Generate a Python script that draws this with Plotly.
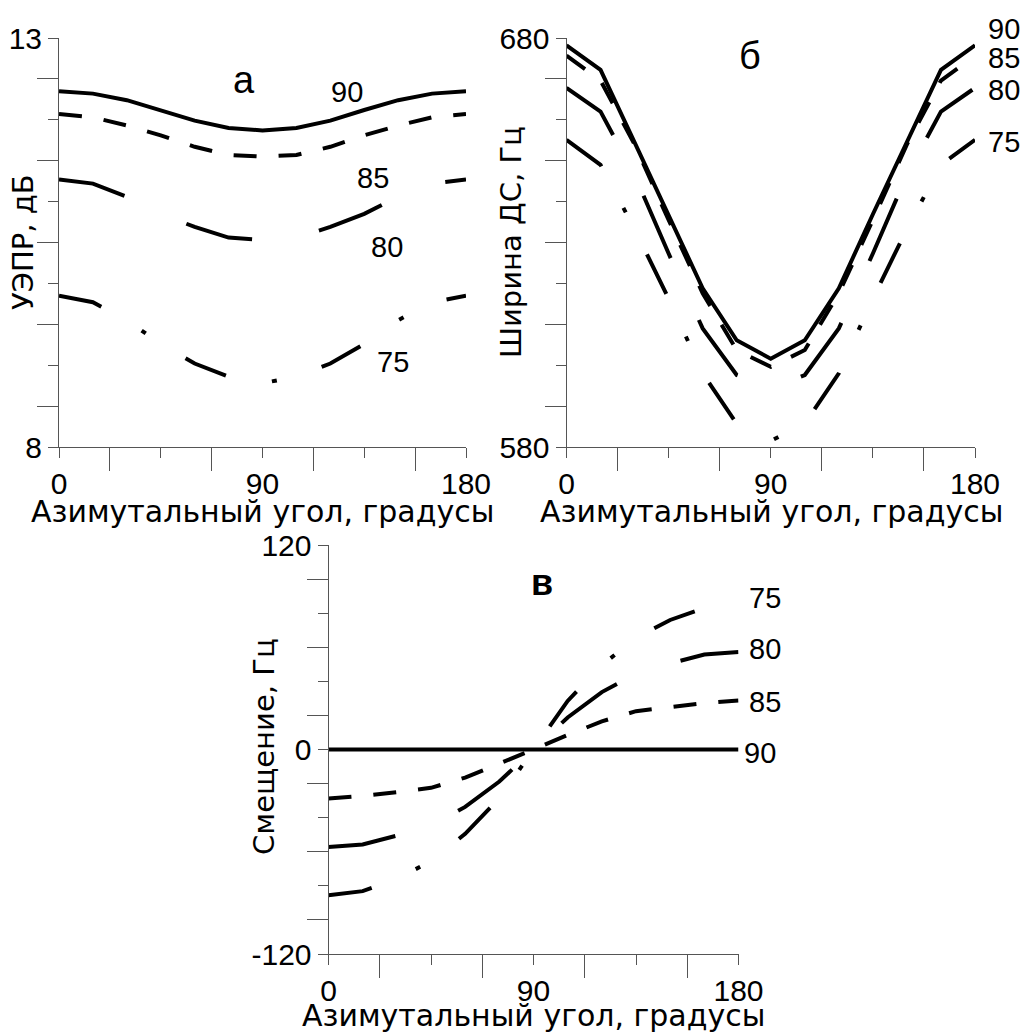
import plotly.graph_objects as go

# Azimuth angle grid, degrees
angles = [0, 15, 30, 45, 60, 75, 90, 105, 120, 135, 150, 165, 180]

# Panel а: УЭПР, дБ for elevation 90, 85, 80, 75
uepr_90 = [12.35, 12.32, 12.24, 12.12, 11.99, 11.90, 11.87, 11.90, 11.99, 12.12, 12.24, 12.32, 12.35]
uepr_85 = [12.07, 12.03, 11.93, 11.81, 11.67, 11.57, 11.55, 11.57, 11.67, 11.81, 11.93, 12.03, 12.07]
uepr_80 = [11.27, 11.22, 11.06, 10.85, 10.69, 10.56, 10.53, 10.56, 10.69, 10.85, 11.06, 11.22, 11.27]
uepr_75 = [9.85, 9.77, 9.55, 9.26, 9.02, 8.86, 8.78, 8.86, 9.02, 9.26, 9.55, 9.77, 9.85]

# Panel б: ширина ДС, Гц
width_90 = [678.2, 672.2, 654.5, 636.9, 618.8, 606.1, 601.6, 606.1, 618.8, 636.9, 654.5, 672.2, 678.2]
width_85 = [675.7, 669.6, 654.0, 635.5, 617.6, 603.7, 599.6, 603.7, 617.6, 635.5, 654.0, 669.6, 675.7]
width_80 = [667.8, 662.0, 646.5, 627.3, 609.0, 597.6, 594.3, 597.6, 609.0, 627.3, 646.5, 662.0, 667.8]
width_75 = [655.1, 649.0, 633.3, 616.3, 598.0, 585.7, 581.5, 585.7, 598.0, 616.3, 633.3, 649.0, 655.1]

# Panel в: смещение, Гц
shift_90 = [0, 0, 0, 0, 0, 0, 0, 0, 0, 0, 0, 0, 0]
shift_85 = [-28.8, -27.2, -25.0, -22.5, -16.5, -8.5, 0, 8.5, 16.5, 22.5, 25.0, 27.2, 28.8]
shift_80 = [-57.2, -55.7, -50.5, -44.5, -33.7, -18.8, 0, 18.8, 33.7, 44.5, 50.5, 55.7, 57.2]
shift_75 = [-85.5, -83.1, -76.0, -65.5, -49.5, -28.5, 0, 28.5, 49.5, 65.5, 76.0, 83.1, 85.5]

elevations = ["90", "85", "80", "75"]

W, H = 1027, 1034
FONT = "Liberation Sans, Arial, sans-serif"
TITLE_FONT = "DejaVu Sans, Liberation Sans, sans-serif"
AXIS_COLOR = "#555555"
LW = 4

# line style per elevation
dashes = {
    "90": "solid",
    "85": "23px,22px",
    "80": "68px,68px",
    "75": "44px,47px,5px,47px",
}
# the shift panel uses a slightly longer dash-dot period
dashes_shift = dict(dashes, **{"75": "44px,48px,5px,48px"})


def px(x, y):
    """Pixel position -> paper coordinates."""
    return x / W, 1 - y / H


def dom(x0, x1, y0, y1):
    return [x0 / W, x1 / W], [1 - y1 / H, 1 - y0 / H]


fig = go.Figure()

panels = [
    ("x", "y", [uepr_90, uepr_85, uepr_80, uepr_75], dashes),
    ("x2", "y2", [width_90, width_85, width_80, width_75], dashes),
    ("x3", "y3", [shift_90, shift_85, shift_80, shift_75], dashes_shift),
]
for xa, ya, series, styles in panels:
    for name, vals in zip(elevations, series):
        fig.add_trace(go.Scatter(
            x=angles, y=vals, mode="lines", name=name, xaxis=xa, yaxis=ya,
            line=dict(color="black", width=LW, dash=styles[name]),
            showlegend=False, hoverinfo="skip",
        ))

xa_dom, ya_dom = dom(59, 466, 38, 447)
xb_dom, yb_dom = dom(566.5, 975, 38, 447)
xc_dom, yc_dom = dom(328.5, 738.5, 545, 954)

tick_font = dict(family=FONT, size=30, color="black")


def xaxis_cfg(domain, anchor):
    return dict(
        domain=domain, anchor=anchor, range=[0, 180], showgrid=False,
        automargin=False,
        zeroline=False, showline=True, linecolor=AXIS_COLOR, linewidth=1,
        ticks="outside", ticklen=10, tickcolor=AXIS_COLOR, tickwidth=1,
        tickmode="array", tickvals=[0, 45, 90, 135, 180],
        ticktext=["0", "", "90", "", "180"], tickfont=tick_font,
        ticklabelstandoff=0,
        minor=dict(tickmode="array", tickvals=[22.5, 67.5, 112.5, 157.5],
                   ticks="outside", ticklen=23, tickcolor=AXIS_COLOR, tickwidth=1),
        fixedrange=True,
    )


def yaxis_cfg(domain, anchor, rng, major, labels, minor):
    return dict(
        domain=domain, anchor=anchor, range=rng, showgrid=False,
        automargin=False,
        zeroline=False, showline=True, linecolor=AXIS_COLOR, linewidth=1,
        ticks="outside", ticklen=10, tickcolor=AXIS_COLOR, tickwidth=1,
        tickmode="array", tickvals=major, ticktext=labels, tickfont=tick_font,
        ticklabelstandoff=0,
        minor=dict(tickmode="array", tickvals=minor, ticks="outside",
                   ticklen=21, tickcolor=AXIS_COLOR, tickwidth=1),
        fixedrange=True,
    )


fig.update_layout(
    width=W, height=H, margin=dict(l=0, r=0, t=0, b=0, autoexpand=False),
    paper_bgcolor="white", plot_bgcolor="white",
    font=dict(family=FONT, color="black"),
    xaxis=xaxis_cfg(xa_dom, "y"),
    yaxis=yaxis_cfg(ya_dom, "x", [8, 13], [8, 9, 10, 11, 12, 13],
                    ["8", "", "", "", "", "13"],
                    [8.5, 9.5, 10.5, 11.5, 12.5]),
    xaxis2=xaxis_cfg(xb_dom, "y2"),
    yaxis2=yaxis_cfg(yb_dom, "x2", [580, 680], [580, 600, 620, 640, 660, 680],
                     ["580", "", "", "", "", "680"],
                     [590, 610, 630, 650, 670]),
    xaxis3=xaxis_cfg(xc_dom, "y3"),
    yaxis3=yaxis_cfg(yc_dom, "x3", [-120, 120], [-120, -80, -40, 0, 40, 80, 120],
                     ["-120", "", "", "0", "", "", "120"],
                     [-100, -60, -20, 20, 60, 100]),
)


def label(text, x, y, size=28, angle=0, family=FONT):
    ax, ay = px(x, y)
    fig.add_annotation(
        text=text, x=ax, y=ay, xref="paper", yref="paper",
        xanchor="center", yanchor="middle", showarrow=False,
        textangle=angle, font=dict(family=family, size=size, color="black"),
    )


# panel letters
label("а", 244, 80, size=38)
label("б", 750, 56, size=38)
label("<b>в</b>", 542, 582, size=36)

# curve labels, panel а
for t, (x, y) in zip(elevations, [(347, 92), (373, 178), (387, 247), (393, 362)]):
    label(t, x, y, size=29)
# curve labels, panel б
for t, (x, y) in zip(elevations, [(1004, 29), (1004, 58), (1004, 90), (1004, 142)]):
    label(t, x, y, size=29)
# curve labels, panel в
for t, (x, y) in zip(elevations, [(760, 753), (765, 702), (765, 649), (765, 598)]):
    label(t, x, y, size=29)

# axis titles
xt = "Азимутальный угол, градусы"
label(xt, 262.5, 511, size=30, family=TITLE_FONT)
label(xt, 771, 511, size=30, family=TITLE_FONT)
label(xt, 533, 1016, size=30, family=TITLE_FONT)
label("УЭПР, дБ", 23, 242, size=29, angle=-90, family=TITLE_FONT)
label("Ширина ДС, Гц", 511, 242, size=29, angle=-90, family=TITLE_FONT)
label("Смещение, Гц", 264, 747, size=29, angle=-90, family=TITLE_FONT)

fig.write_html("out.html")
